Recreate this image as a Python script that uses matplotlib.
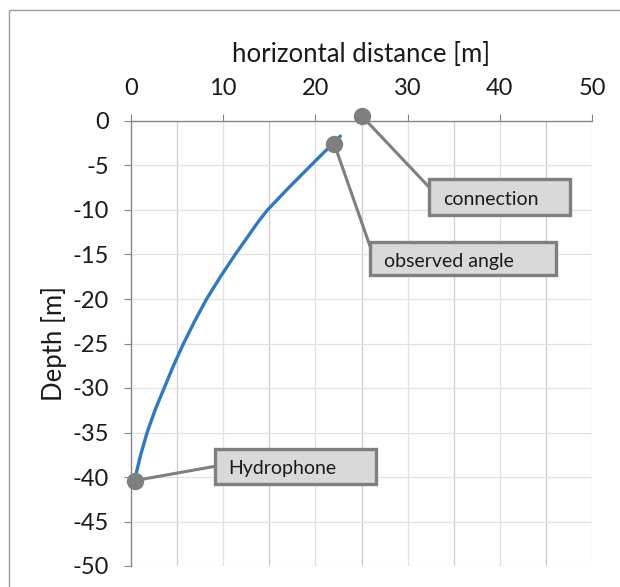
import numpy as np
import matplotlib.pyplot as plt
from matplotlib.patches import Rectangle

plt.rcParams['font.family'] = ['Lato', 'DejaVu Sans']
plt.rcParams['axes.unicode_minus'] = False

# cable shape
dist_x = [0.4, 1.05, 1.75, 2.6, 3.6, 4.6, 5.7, 6.9, 8.2, 9.7, 11.3, 13.0, 13.85,
          14.8, 17.1, 19.5, 21.1, 22.7]
depth_y = [-40.3, -37.5, -35.0, -32.5, -30.0, -27.5, -25.0, -22.5, -20.0, -17.5,
           -15.0, -12.5, -11.25, -10.0, -7.5, -5.0, -3.35, -1.7]

# labelled points
point_names = ["connection", "observed angle", "Hydrophone"]
point_x = [25.0, 22.05, 0.43]
point_y = [0.6, -2.6, -40.4]

x_ticks = [0, 10, 20, 30, 40, 50]
y_ticks = list(range(0, -51, -5))

# label boxes: (left, top, right, bottom) and where the leader line ends
boxes = [(32.3, -6.5, 47.6, -10.6), (25.9, -13.6, 46.1, -17.3), (9.1, -36.8, 26.6, -40.8)]
leader_end = [(32.3, -7.4), (25.9, -14.0), (9.1, -38.8)]

fig = plt.figure(figsize=(6.2, 5.87), dpi=100)
ax = fig.add_axes([131 / 620, 1 - 566 / 587, 461 / 620, 445 / 587])

ax.plot(dist_x, depth_y, color='#2F78C4', lw=2.4, zorder=3,
        solid_joinstyle='round', solid_capstyle='round')

ax.set_xlim(0, 50)
ax.set_ylim(-50, 0)
ax.xaxis.tick_top()
ax.xaxis.set_label_position('top')
ax.set_xticks(x_ticks)
ax.set_xticks(range(5, 50, 10), minor=True)
ax.set_yticks(y_ticks)
ax.tick_params(axis='both', which='major', length=5, width=0.8, color='#868686',
               labelsize=17, pad=11, labelcolor='#1a1a1a')
ax.tick_params(axis='x', which='minor', length=0)
ax.grid(True, which='major', color='#e2e2e2', lw=0.9, zorder=0)
ax.grid(True, which='minor', axis='x', color='#cdcdcd', lw=0.9, zorder=0)
ax.set_axisbelow(True)
for s in ['right', 'bottom']:
    ax.spines[s].set_visible(False)
for s in ['top', 'left']:
    ax.spines[s].set_color('#868686')
    ax.spines[s].set_linewidth(1.0)

ax.set_xlabel("horizontal distance [m]", fontsize=18.5, labelpad=11, color='#1a1a1a')
ax.set_ylabel("Depth [m]", fontsize=18.5, labelpad=4, color='#1a1a1a')

for name, px, py, (l, t, r, b), (ex, ey) in zip(point_names, point_x, point_y, boxes, leader_end):
    ax.plot([px, ex], [py, ey], color='#7f7f7f', lw=2.2, zorder=4, clip_on=False)
    ax.plot(px, py, 'o', color='#7f7f7f', ms=11.5, zorder=6, clip_on=False)
    ax.add_patch(Rectangle((l, b), r - l, t - b, fc='#d9d9d9', ec='#7f7f7f', lw=2.4,
                           zorder=5, clip_on=False))
    ax.text(l + 1.5, (t + b) / 2 - 0.3, name, fontsize=14, ha='left', va='center',
            color='#1a1a1a', zorder=7)

# chart area border (only top/left fall inside the image)
fig.add_artist(Rectangle((9 / 620, -0.1), 1.2, 1 - 10 / 587 + 0.1, transform=fig.transFigure,
                         fill=False, ec='#9a9a9a', lw=1.0))

fig.savefig("out.png", dpi=100)
